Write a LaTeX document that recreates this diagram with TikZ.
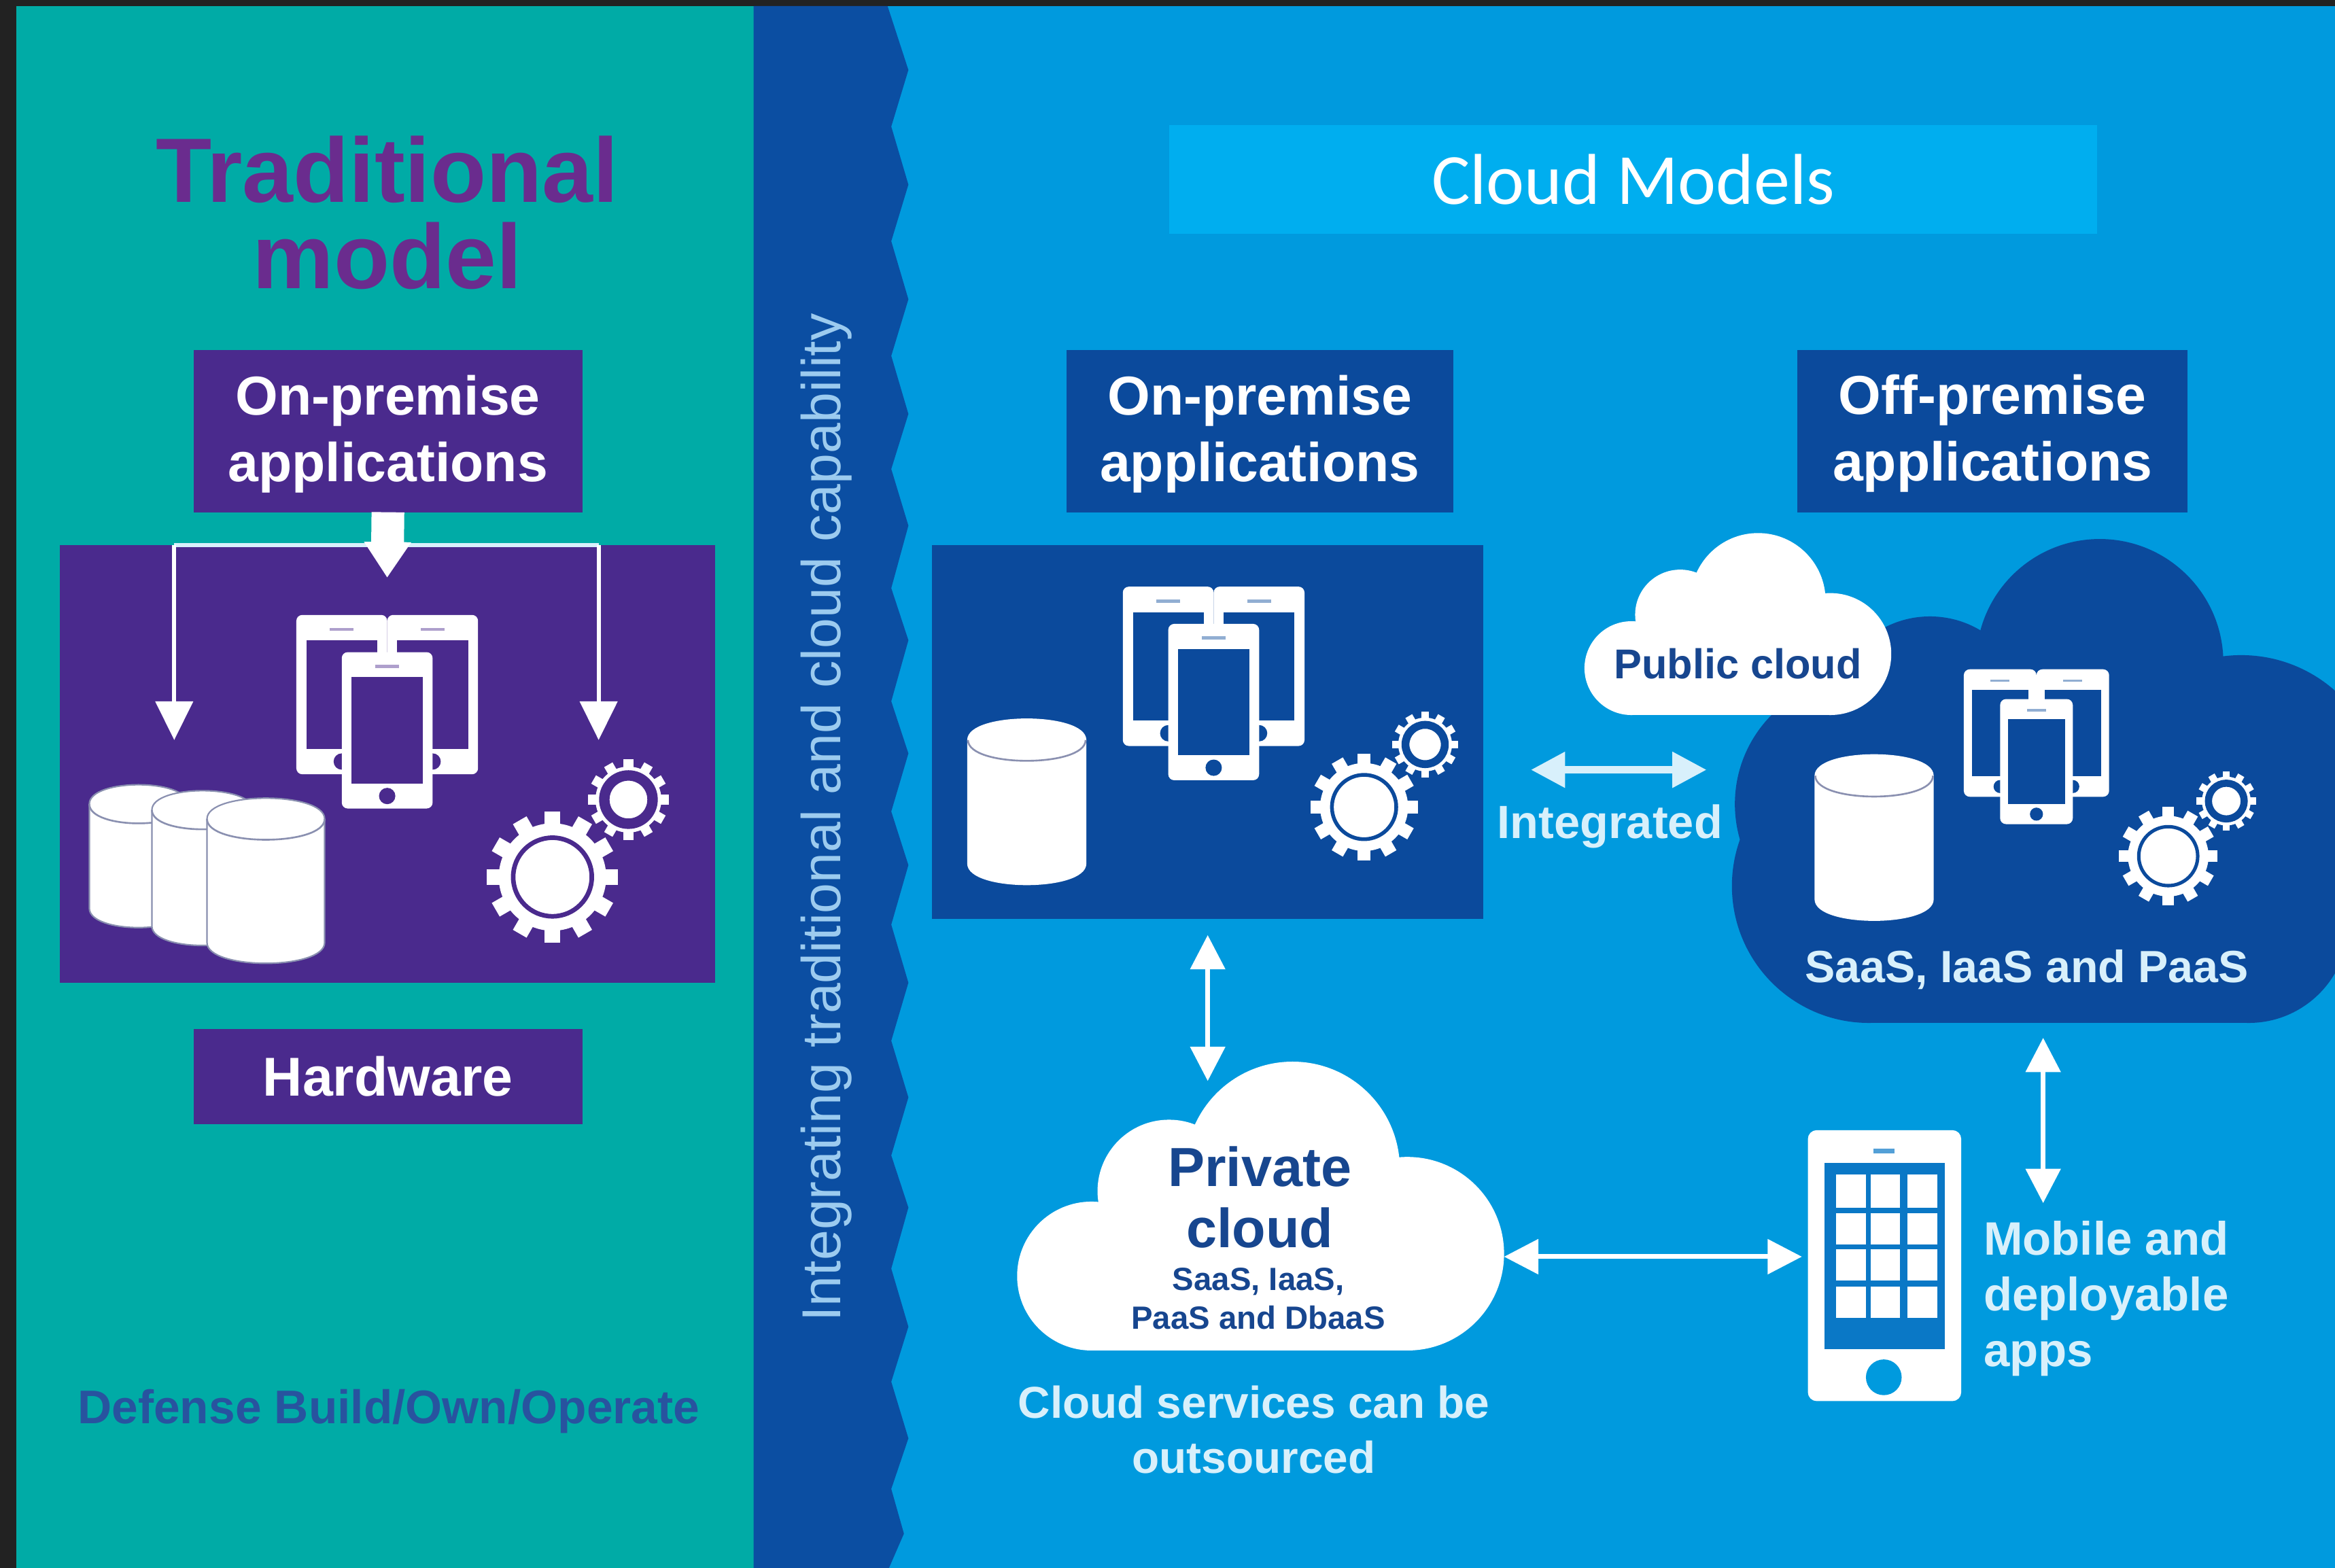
\documentclass[tikz,border=0pt]{standalone}
\usepackage{fontspec}
\setmainfont{Liberation Sans}
\newfontfamily\titlefont{Carlito}
\usetikzlibrary{arrows.meta}
\definecolor{frame}{HTML}{222222}
\definecolor{teal1}{HTML}{00ABA6}
\definecolor{band}{HTML}{0B4EA2}
\definecolor{sky}{HTML}{009ADE}
\definecolor{title}{HTML}{00AEEF}
\definecolor{purp}{HTML}{4A2A8D}
\definecolor{purptxt}{HTML}{6A2C8E}
\definecolor{navy}{HTML}{0B4A9C}
\definecolor{navytxt}{HTML}{17468F}
\definecolor{pale}{HTML}{D8F0FB}
\definecolor{bandtxt}{HTML}{9CCBEF}
\definecolor{gridc}{HTML}{0A78C6}
\definecolor{defn}{HTML}{28539F}
\definecolor{cylline}{HTML}{8A90B0}
\tikzset{
  x=1pt,y=-1pt,
  boxp/.style={fill=purp,inner sep=0,outer sep=0},
  boxb/.style={boxp,fill=navy},
  boxtxt/.style={inner sep=0,outer sep=0,text=white,align=center,font=\fontsize{36.8}{44.5}\selectfont\bfseries},
  lbl/.style={inner sep=0,outer sep=0,align=center},
  thinln/.style={draw=pale,line width=2.6pt},
  dbl/.style={draw=white,line width=3.2pt,{Triangle[length=23pt,width=23pt]}-{Triangle[length=23pt,width=23pt]}},
  sgl/.style={draw=white,line width=2.6pt,-{Triangle[length=26pt,width=25pt]}},
}
\newcommand{\onephone}[5]{%
  \fill[white,rounded corners=4pt] (#1-#3/2,#2-#4/2) rectangle (#1+#3/2,#2+#4/2);
  \fill[#5] (#1-#3*0.39,#2-#4*0.34) rectangle (#1+#3*0.39,#2+#4*0.34);
  \fill[#5] (#1,#2+#4*0.42) circle ({#3*0.09});
  \fill[#5!45!white] (#1-#3*0.13,#2-#4*0.42) rectangle (#1+#3*0.13,#2-#4*0.40);
}
\newcommand{\phones}[4]{%
  \begin{scope}[shift={(#1,#2)},scale=#3]
    \onephone{-30.5}{-11.5}{61}{107}{#4}
    \onephone{30.5}{-11.5}{61}{107}{#4}
    \onephone{0}{12.5}{61}{105}{#4}
  \end{scope}}
\newcommand{\gear}[5]{% x y R bg ringwidth-ratio
  \begin{scope}[shift={(#1,#2)}]
    \foreach \a in {0,30,...,330}
      \fill[white,rotate=\a] (-#3*0.12,-#3) rectangle (#3*0.12,-#3*0.7);
    \fill[white] (0,0) circle ({#3*0.82});
    \draw[#4,line width=#3*#5 pt] (0,0) circle ({#3*0.6});
  \end{scope}}
\newcommand{\cyl}[6]{% x1 ytop x2 ybot ry outline
  \path[fill=white,draw=#6,line width=1pt] (#1,#2+#5) .. controls (#1,#2-#5*0.33) and (#3,#2-#5*0.33) .. (#3,#2+#5)
     -- (#3,#4-#5) .. controls (#3,#4+#5*0.33) and (#1,#4+#5*0.33) .. (#1,#4-#5) -- cycle;
  \draw[cylline,line width=1.2pt] (#1,#2+#5) .. controls (#1,#2+#5*2.33) and (#3,#2+#5*2.33) .. (#3,#2+#5);
}
\newcommand{\cloudshape}[4]{% x y scale colour: origin at left/top of a 327x194 cloud
  \begin{scope}[shift={(#1,#2)},scale=#3]
    \fill[#4] (185,72) circle (72);
    \fill[#4] (102,87) circle (48);
    \fill[#4] (50,144) circle (50);
    \fill[#4] (262,129) circle (65);
    \fill[#4] (50,100) rectangle (262,194);
    \fill[#4] (100,60) rectangle (240,120);
  \end{scope}}
\begin{document}
\begin{tikzpicture}
\useasboundingbox (0,0) rectangle (1568,1053);
\clip (0,0) rectangle (1568,1053);
% backgrounds
\fill[frame] (0,0) rectangle (1568,1053);
\fill[teal1] (11,4) rectangle (506,1053);
\fill[sky] (590,4) rectangle (1568,1053);
\fill[band] (506,4) -- (596,4) -- (610,47) -- (598.5,85) -- (610,124) -- (598.5,162) -- (610,201) -- (598.5,239) -- (610,278) -- (598.5,315) -- (610,353) -- (598.5,395) -- (610,430) -- (598.5,471) -- (610,506) -- (598.5,545) -- (610,581) -- (598.5,621) -- (610,660) -- (598.5,699) -- (610,737) -- (598.5,776) -- (610,811) -- (598.5,852) -- (610,891) -- (598.5,928) -- (610,966) -- (598.5,1000) -- (607,1030) -- (597,1053) -- (506,1053) -- cycle;
% title
\node[fill=title,inner sep=0,minimum width=623pt,minimum height=73pt,anchor=north west,text=white,font=\titlefont\fontsize{48.4}{58}\selectfont] (cm) at (785,84) {Cloud Models};
% traditional
\node[lbl,text=purptxt,font=\fontsize{61.4}{58}\selectfont\bfseries] (trad) at (260,143) {Traditional\\model};
\node[boxp,minimum width=440pt,minimum height=294pt,anchor=north west] (tbig) at (40,366) {};
\node[boxp,minimum width=261pt,minimum height=109pt,anchor=north west] (tapp) at (130,235) {};
\node[boxtxt] (tappl) at ([yshift=-2pt]tapp.center) {On-premise\\applications};
\node[boxp,minimum width=261pt,minimum height=64pt,anchor=north west] (thw) at (130,691) {};
\node[boxtxt] (thwl) at (thw.center) {Hardware};
\coordinate (tl) at (117,366);
\coordinate (tr) at (402,366);
\coordinate (tld) at (117,497);
\coordinate (trd) at (402,497);
\coordinate (tm) at (260,388);
\draw[thinln] (tl) -- (tr);
\draw[sgl] (tl) -- (tld);
\draw[sgl] (tr) -- (trd);
\draw[white,line width=22pt,-{Triangle[length=24pt,width=30pt]}] (tapp.south) -- (tm);
\phones{260}{478}{1}{purp}
\gear{371}{589}{44}{purp}{0.07}
\gear{422}{537}{27}{purp}{0.26}
\cyl{60}{527}{126}{623}{13}{cylline}
\cyl{102}{531}{170}{635}{13}{cylline}
\cyl{139}{536}{218}{647}{14}{cylline}
\node[lbl,text=defn,font=\fontsize{31.7}{38}\selectfont\bfseries] (defl) at (261,948) {Defense Build/Own/Operate};
% band text
\node[lbl,text=bandtxt,rotate=90,font=\fontsize{36.8}{44}\selectfont] (bandl) at (555,549) {Integrating traditional and cloud capability};
% on-prem
\node[boxb,minimum width=260pt,minimum height=109pt,anchor=north west] (oapp) at (716,235) {};
\node[boxtxt] (oappl) at ([yshift=-2pt]oapp.center) {On-premise\\applications};
\node[boxb,minimum width=370pt,minimum height=251pt,anchor=north west] (obig) at (626,366) {};
\phones{815}{459}{1}{navy}
\gear{916}{542}{36}{navy}{0.07}
\gear{957}{500}{22}{navy}{0.24}
\cyl{650}{483}{729}{594}{14}{white}
% off-prem
\node[boxb,minimum width=262pt,minimum height=109pt,anchor=north west] (fapp) at (1207,235) {};
\node[boxtxt] (fappl) at ([yshift=-1.5pt]fapp.center) {Off-premise\\applications};
\fill[navy] (1410,445) circle (83);
\fill[navy] (1296,480) circle (66);
\fill[navy] (1255,595) circle (92);
\fill[navy] (1250,540) circle (85);
\fill[navy] (1505,535) circle (95);
\fill[navy] (1510,620) circle (67);
\fill[navy] (1255,480) rectangle (1510,687);
\cloudshape{1064}{358}{0.63}{white}
\node[lbl,text=navytxt,font=\fontsize{28}{34}\selectfont\bfseries] (pubc) at (1167,446) {Public cloud};
\phones{1367.5}{501.5}{0.8}{navy}
\gear{1456}{575}{33}{navy}{0.07}
\gear{1495}{538}{20}{navy}{0.24}
\cyl{1219}{507}{1298}{618}{14}{white}
\node[lbl,text=pale,font=\fontsize{30.3}{36}\selectfont\bfseries] (saas) at (1361,651) {SaaS, IaaS and PaaS};
\coordinate (fcb) at (1372,697);
\coordinate (mt) at (1372,808);
% integrated
\coordinate (il) at (1028,517);
\coordinate (ir) at (1146,517);
\draw[dbl,draw=pale,line width=5pt] (il) -- (ir);
\node[lbl,text=pale,font=\fontsize{31.3}{37}\selectfont\bfseries] (intl) at (1081,555) {Integrated};
% private cloud
\cloudshape{683}{713}{1}{white}
\node[lbl,text=navytxt,font=\fontsize{37}{41}\selectfont\bfseries] (prv) at (846,804) {Private\\cloud};
\node[lbl,text=navytxt,font=\fontsize{21.6}{26}\selectfont\bfseries] (prv2) at (845,872) {SaaS, IaaS,\\PaaS and DbaaS};
\node[lbl,text=pale,font=\fontsize{30}{37}\selectfont\bfseries] (outs) at (842,960) {Cloud services can be\\outsourced};
\coordinate (ob) at (811,628);
\coordinate (pt) at (811,726);
\draw[dbl] (ob) -- (pt);
\draw[dbl] (fcb) -- (mt);
\coordinate (pr) at (1010,844);
\coordinate (ml) at (1210,844);
\draw[dbl] (pr) -- (ml);
% mobile
\fill[white,rounded corners=6pt] (1214,759) rectangle (1317,941);
\fill[gridc] (1225,781) rectangle (1306,906);
\fill[gridc!70!white] (1258,771.5) rectangle (1272,774.5);
\fill[sky] (1265,925) circle (12);
\foreach \yy/\yb in {789/811,815/836,839/860,864/885}
  \foreach \xx/\xb in {1233/1253,1256/1276,1281/1301}
    \fill[white] (\xx,\yy) rectangle (\xb,\yb);
\node[lbl,text=pale,align=left,anchor=north west,font=\fontsize{31.5}{37.5}\selectfont\bfseries] (mob) at (1332,820) {Mobile and\\deployable\\apps};
\end{tikzpicture}
\end{document}
